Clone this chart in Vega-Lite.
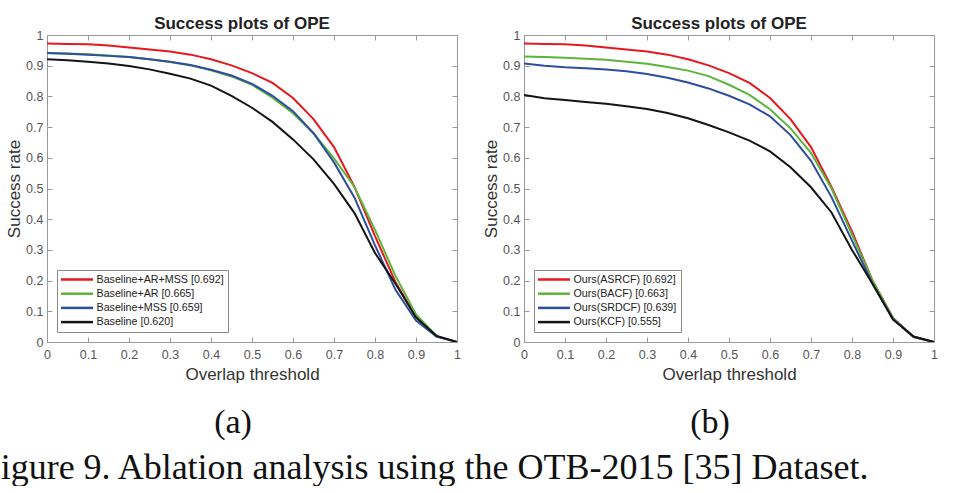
{
  "$schema": "https://vega.github.io/schema/vega-lite/v6.json",
  "background": "white",
  "padding": {"left": -20, "top": 15, "right": 0, "bottom": 0},
  "spacing": 21,
  "title": {
    "text": "Figure 9. Ablation analysis using the OTB-2015 [35] Dataset.",
    "orient": "bottom",
    "anchor": "start",
    "font": "Liberation Serif",
    "fontSize": 36,
    "fontWeight": "normal",
    "color": "#111111",
    "offset": 11,
    "dx": -25
  },
  "datasets": {
    "a": [
      {"m": "Baseline+AR+MSS [0.692]", "t": 0, "v": 0.972},
      {"m": "Baseline+AR+MSS [0.692]", "t": 0.05, "v": 0.971},
      {"m": "Baseline+AR+MSS [0.692]", "t": 0.1, "v": 0.970},
      {"m": "Baseline+AR+MSS [0.692]", "t": 0.15, "v": 0.966},
      {"m": "Baseline+AR+MSS [0.692]", "t": 0.2, "v": 0.959},
      {"m": "Baseline+AR+MSS [0.692]", "t": 0.25, "v": 0.953},
      {"m": "Baseline+AR+MSS [0.692]", "t": 0.3, "v": 0.946},
      {"m": "Baseline+AR+MSS [0.692]", "t": 0.35, "v": 0.936},
      {"m": "Baseline+AR+MSS [0.692]", "t": 0.4, "v": 0.921},
      {"m": "Baseline+AR+MSS [0.692]", "t": 0.45, "v": 0.901},
      {"m": "Baseline+AR+MSS [0.692]", "t": 0.5, "v": 0.876},
      {"m": "Baseline+AR+MSS [0.692]", "t": 0.55, "v": 0.844},
      {"m": "Baseline+AR+MSS [0.692]", "t": 0.6, "v": 0.795},
      {"m": "Baseline+AR+MSS [0.692]", "t": 0.65, "v": 0.726},
      {"m": "Baseline+AR+MSS [0.692]", "t": 0.7, "v": 0.635},
      {"m": "Baseline+AR+MSS [0.692]", "t": 0.75, "v": 0.505},
      {"m": "Baseline+AR+MSS [0.692]", "t": 0.8, "v": 0.345},
      {"m": "Baseline+AR+MSS [0.692]", "t": 0.85, "v": 0.195},
      {"m": "Baseline+AR+MSS [0.692]", "t": 0.9, "v": 0.082},
      {"m": "Baseline+AR+MSS [0.692]", "t": 0.95, "v": 0.018},
      {"m": "Baseline+AR+MSS [0.692]", "t": 1, "v": 0},
      {"m": "Baseline+AR [0.665]", "t": 0, "v": 0.941},
      {"m": "Baseline+AR [0.665]", "t": 0.05, "v": 0.940},
      {"m": "Baseline+AR [0.665]", "t": 0.1, "v": 0.937},
      {"m": "Baseline+AR [0.665]", "t": 0.15, "v": 0.933},
      {"m": "Baseline+AR [0.665]", "t": 0.2, "v": 0.928},
      {"m": "Baseline+AR [0.665]", "t": 0.25, "v": 0.921},
      {"m": "Baseline+AR [0.665]", "t": 0.3, "v": 0.912},
      {"m": "Baseline+AR [0.665]", "t": 0.35, "v": 0.901},
      {"m": "Baseline+AR [0.665]", "t": 0.4, "v": 0.885},
      {"m": "Baseline+AR [0.665]", "t": 0.45, "v": 0.865},
      {"m": "Baseline+AR [0.665]", "t": 0.5, "v": 0.838},
      {"m": "Baseline+AR [0.665]", "t": 0.55, "v": 0.796},
      {"m": "Baseline+AR [0.665]", "t": 0.6, "v": 0.745},
      {"m": "Baseline+AR [0.665]", "t": 0.65, "v": 0.680},
      {"m": "Baseline+AR [0.665]", "t": 0.7, "v": 0.598},
      {"m": "Baseline+AR [0.665]", "t": 0.75, "v": 0.505},
      {"m": "Baseline+AR [0.665]", "t": 0.8, "v": 0.365},
      {"m": "Baseline+AR [0.665]", "t": 0.85, "v": 0.215},
      {"m": "Baseline+AR [0.665]", "t": 0.9, "v": 0.090},
      {"m": "Baseline+AR [0.665]", "t": 0.95, "v": 0.020},
      {"m": "Baseline+AR [0.665]", "t": 1, "v": 0},
      {"m": "Baseline+MSS [0.659]", "t": 0, "v": 0.941},
      {"m": "Baseline+MSS [0.659]", "t": 0.05, "v": 0.939},
      {"m": "Baseline+MSS [0.659]", "t": 0.1, "v": 0.936},
      {"m": "Baseline+MSS [0.659]", "t": 0.15, "v": 0.932},
      {"m": "Baseline+MSS [0.659]", "t": 0.2, "v": 0.928},
      {"m": "Baseline+MSS [0.659]", "t": 0.25, "v": 0.921},
      {"m": "Baseline+MSS [0.659]", "t": 0.3, "v": 0.913},
      {"m": "Baseline+MSS [0.659]", "t": 0.35, "v": 0.902},
      {"m": "Baseline+MSS [0.659]", "t": 0.4, "v": 0.887},
      {"m": "Baseline+MSS [0.659]", "t": 0.45, "v": 0.868},
      {"m": "Baseline+MSS [0.659]", "t": 0.5, "v": 0.841},
      {"m": "Baseline+MSS [0.659]", "t": 0.55, "v": 0.802},
      {"m": "Baseline+MSS [0.659]", "t": 0.6, "v": 0.752},
      {"m": "Baseline+MSS [0.659]", "t": 0.65, "v": 0.680},
      {"m": "Baseline+MSS [0.659]", "t": 0.7, "v": 0.585},
      {"m": "Baseline+MSS [0.659]", "t": 0.75, "v": 0.470},
      {"m": "Baseline+MSS [0.659]", "t": 0.8, "v": 0.315},
      {"m": "Baseline+MSS [0.659]", "t": 0.85, "v": 0.170},
      {"m": "Baseline+MSS [0.659]", "t": 0.9, "v": 0.070},
      {"m": "Baseline+MSS [0.659]", "t": 0.95, "v": 0.018},
      {"m": "Baseline+MSS [0.659]", "t": 1, "v": 0},
      {"m": "Baseline [0.620]", "t": 0, "v": 0.921},
      {"m": "Baseline [0.620]", "t": 0.05, "v": 0.918},
      {"m": "Baseline [0.620]", "t": 0.1, "v": 0.913},
      {"m": "Baseline [0.620]", "t": 0.15, "v": 0.907},
      {"m": "Baseline [0.620]", "t": 0.2, "v": 0.899},
      {"m": "Baseline [0.620]", "t": 0.25, "v": 0.888},
      {"m": "Baseline [0.620]", "t": 0.3, "v": 0.874},
      {"m": "Baseline [0.620]", "t": 0.35, "v": 0.858},
      {"m": "Baseline [0.620]", "t": 0.4, "v": 0.835},
      {"m": "Baseline [0.620]", "t": 0.45, "v": 0.802},
      {"m": "Baseline [0.620]", "t": 0.5, "v": 0.763},
      {"m": "Baseline [0.620]", "t": 0.55, "v": 0.717},
      {"m": "Baseline [0.620]", "t": 0.6, "v": 0.660},
      {"m": "Baseline [0.620]", "t": 0.65, "v": 0.595},
      {"m": "Baseline [0.620]", "t": 0.7, "v": 0.515},
      {"m": "Baseline [0.620]", "t": 0.75, "v": 0.420},
      {"m": "Baseline [0.620]", "t": 0.8, "v": 0.290},
      {"m": "Baseline [0.620]", "t": 0.85, "v": 0.190},
      {"m": "Baseline [0.620]", "t": 0.9, "v": 0.080},
      {"m": "Baseline [0.620]", "t": 0.95, "v": 0.020},
      {"m": "Baseline [0.620]", "t": 1, "v": 0}
    ],
    "b": [
      {"m": "Ours(ASRCF) [0.692]", "t": 0, "v": 0.972},
      {"m": "Ours(ASRCF) [0.692]", "t": 0.05, "v": 0.971},
      {"m": "Ours(ASRCF) [0.692]", "t": 0.1, "v": 0.970},
      {"m": "Ours(ASRCF) [0.692]", "t": 0.15, "v": 0.966},
      {"m": "Ours(ASRCF) [0.692]", "t": 0.2, "v": 0.959},
      {"m": "Ours(ASRCF) [0.692]", "t": 0.25, "v": 0.953},
      {"m": "Ours(ASRCF) [0.692]", "t": 0.3, "v": 0.946},
      {"m": "Ours(ASRCF) [0.692]", "t": 0.35, "v": 0.936},
      {"m": "Ours(ASRCF) [0.692]", "t": 0.4, "v": 0.921},
      {"m": "Ours(ASRCF) [0.692]", "t": 0.45, "v": 0.901},
      {"m": "Ours(ASRCF) [0.692]", "t": 0.5, "v": 0.876},
      {"m": "Ours(ASRCF) [0.692]", "t": 0.55, "v": 0.844},
      {"m": "Ours(ASRCF) [0.692]", "t": 0.6, "v": 0.795},
      {"m": "Ours(ASRCF) [0.692]", "t": 0.65, "v": 0.726},
      {"m": "Ours(ASRCF) [0.692]", "t": 0.7, "v": 0.635},
      {"m": "Ours(ASRCF) [0.692]", "t": 0.75, "v": 0.505},
      {"m": "Ours(ASRCF) [0.692]", "t": 0.8, "v": 0.360},
      {"m": "Ours(ASRCF) [0.692]", "t": 0.85, "v": 0.200},
      {"m": "Ours(ASRCF) [0.692]", "t": 0.9, "v": 0.078},
      {"m": "Ours(ASRCF) [0.692]", "t": 0.95, "v": 0.016},
      {"m": "Ours(ASRCF) [0.692]", "t": 1, "v": 0},
      {"m": "Ours(BACF) [0.663]", "t": 0, "v": 0.930},
      {"m": "Ours(BACF) [0.663]", "t": 0.05, "v": 0.928},
      {"m": "Ours(BACF) [0.663]", "t": 0.1, "v": 0.926},
      {"m": "Ours(BACF) [0.663]", "t": 0.15, "v": 0.923},
      {"m": "Ours(BACF) [0.663]", "t": 0.2, "v": 0.919},
      {"m": "Ours(BACF) [0.663]", "t": 0.25, "v": 0.913},
      {"m": "Ours(BACF) [0.663]", "t": 0.3, "v": 0.906},
      {"m": "Ours(BACF) [0.663]", "t": 0.35, "v": 0.896},
      {"m": "Ours(BACF) [0.663]", "t": 0.4, "v": 0.884},
      {"m": "Ours(BACF) [0.663]", "t": 0.45, "v": 0.866},
      {"m": "Ours(BACF) [0.663]", "t": 0.5, "v": 0.838},
      {"m": "Ours(BACF) [0.663]", "t": 0.55, "v": 0.805},
      {"m": "Ours(BACF) [0.663]", "t": 0.6, "v": 0.758},
      {"m": "Ours(BACF) [0.663]", "t": 0.65, "v": 0.696},
      {"m": "Ours(BACF) [0.663]", "t": 0.7, "v": 0.616},
      {"m": "Ours(BACF) [0.663]", "t": 0.75, "v": 0.500},
      {"m": "Ours(BACF) [0.663]", "t": 0.8, "v": 0.350},
      {"m": "Ours(BACF) [0.663]", "t": 0.85, "v": 0.200},
      {"m": "Ours(BACF) [0.663]", "t": 0.9, "v": 0.078},
      {"m": "Ours(BACF) [0.663]", "t": 0.95, "v": 0.016},
      {"m": "Ours(BACF) [0.663]", "t": 1, "v": 0},
      {"m": "Ours(SRDCF) [0.639]", "t": 0, "v": 0.907},
      {"m": "Ours(SRDCF) [0.639]", "t": 0.05, "v": 0.900},
      {"m": "Ours(SRDCF) [0.639]", "t": 0.1, "v": 0.895},
      {"m": "Ours(SRDCF) [0.639]", "t": 0.15, "v": 0.892},
      {"m": "Ours(SRDCF) [0.639]", "t": 0.2, "v": 0.888},
      {"m": "Ours(SRDCF) [0.639]", "t": 0.25, "v": 0.882},
      {"m": "Ours(SRDCF) [0.639]", "t": 0.3, "v": 0.873},
      {"m": "Ours(SRDCF) [0.639]", "t": 0.35, "v": 0.861},
      {"m": "Ours(SRDCF) [0.639]", "t": 0.4, "v": 0.845},
      {"m": "Ours(SRDCF) [0.639]", "t": 0.45, "v": 0.826},
      {"m": "Ours(SRDCF) [0.639]", "t": 0.5, "v": 0.802},
      {"m": "Ours(SRDCF) [0.639]", "t": 0.55, "v": 0.774},
      {"m": "Ours(SRDCF) [0.639]", "t": 0.6, "v": 0.735},
      {"m": "Ours(SRDCF) [0.639]", "t": 0.65, "v": 0.674},
      {"m": "Ours(SRDCF) [0.639]", "t": 0.7, "v": 0.590},
      {"m": "Ours(SRDCF) [0.639]", "t": 0.75, "v": 0.472},
      {"m": "Ours(SRDCF) [0.639]", "t": 0.8, "v": 0.330},
      {"m": "Ours(SRDCF) [0.639]", "t": 0.85, "v": 0.190},
      {"m": "Ours(SRDCF) [0.639]", "t": 0.9, "v": 0.075},
      {"m": "Ours(SRDCF) [0.639]", "t": 0.95, "v": 0.018},
      {"m": "Ours(SRDCF) [0.639]", "t": 1, "v": 0},
      {"m": "Ours(KCF) [0.555]", "t": 0, "v": 0.805},
      {"m": "Ours(KCF) [0.555]", "t": 0.05, "v": 0.794},
      {"m": "Ours(KCF) [0.555]", "t": 0.1, "v": 0.788},
      {"m": "Ours(KCF) [0.555]", "t": 0.15, "v": 0.782},
      {"m": "Ours(KCF) [0.555]", "t": 0.2, "v": 0.776},
      {"m": "Ours(KCF) [0.555]", "t": 0.25, "v": 0.768},
      {"m": "Ours(KCF) [0.555]", "t": 0.3, "v": 0.759},
      {"m": "Ours(KCF) [0.555]", "t": 0.35, "v": 0.746},
      {"m": "Ours(KCF) [0.555]", "t": 0.4, "v": 0.729},
      {"m": "Ours(KCF) [0.555]", "t": 0.45, "v": 0.707},
      {"m": "Ours(KCF) [0.555]", "t": 0.5, "v": 0.683},
      {"m": "Ours(KCF) [0.555]", "t": 0.55, "v": 0.656},
      {"m": "Ours(KCF) [0.555]", "t": 0.6, "v": 0.621},
      {"m": "Ours(KCF) [0.555]", "t": 0.65, "v": 0.569},
      {"m": "Ours(KCF) [0.555]", "t": 0.7, "v": 0.504},
      {"m": "Ours(KCF) [0.555]", "t": 0.75, "v": 0.422},
      {"m": "Ours(KCF) [0.555]", "t": 0.8, "v": 0.300},
      {"m": "Ours(KCF) [0.555]", "t": 0.85, "v": 0.190},
      {"m": "Ours(KCF) [0.555]", "t": 0.9, "v": 0.073},
      {"m": "Ours(KCF) [0.555]", "t": 0.95, "v": 0.018},
      {"m": "Ours(KCF) [0.555]", "t": 1, "v": 0}
    ]
  },
  "hconcat": [
    {
      "title": {"text": "(a)", "orient": "bottom", "anchor": "middle", "font": "Liberation Serif", "fontSize": 34, "fontWeight": "normal", "color": "#111111", "offset": 23, "dx": 0},
      "resolve": {"scale": {"color": "independent"}, "legend": {"color": "independent"}},
      "vconcat": [
        {
          "title": {"text": "Success plots of OPE", "font": "Liberation Sans", "fontSize": 17, "fontWeight": "bold", "color": "#222222", "anchor": "middle", "dx": -10, "offset": -4},
          "width": 410,
          "height": 307,
          "data": {"name": "a"},
          "layer": [
            {
              "mark": {"type": "line", "strokeWidth": 2, "clip": true},
              "encoding": {
                "x": {"field": "t", "type": "quantitative", "scale": {"domain": [0, 1], "nice": false, "zero": false},
                      "axis": {"orient": "bottom", "values": [0, 0.1, 0.2, 0.3, 0.4, 0.5, 0.6, 0.7, 0.8, 0.9, 1], "format": "~g", "title": "Overlap threshold", "titlePadding": 6, "labelPadding": 11, "labelFlush": false, "labelOverlap": false}},
                "y": {"field": "v", "type": "quantitative", "scale": {"domain": [0, 1], "nice": false, "zero": false},
                      "axis": {"orient": "left", "values": [0, 0.1, 0.2, 0.3, 0.4, 0.5, 0.6, 0.7, 0.8, 0.9, 1], "format": "~g", "title": "Success rate", "labelFlush": false, "labelOverlap": false}},
                "color": {"field": "m", "type": "nominal",
                          "scale": {"domain": ["Baseline+AR+MSS [0.692]", "Baseline+AR [0.665]", "Baseline+MSS [0.659]", "Baseline [0.620]"], "range": ["#e8171e", "#5cb53a", "#2d4da0", "#141414"]},
                          "legend": {"orient": "bottom-left", "offset": 10, "title": null, "strokeColor": "#8a8a8a", "fillColor": "#ffffff"}}
              }
            },
            {
              "mark": {"type": "point", "opacity": 0},
              "encoding": {
                "x": {"field": "t", "type": "quantitative", "axis": {"orient": "top", "values": [0, 0.1, 0.2, 0.3, 0.4, 0.5, 0.6, 0.7, 0.8, 0.9, 1], "labels": false, "title": null}},
                "y": {"field": "v", "type": "quantitative", "axis": {"orient": "right", "values": [0, 0.1, 0.2, 0.3, 0.4, 0.5, 0.6, 0.7, 0.8, 0.9, 1], "labels": false, "title": null}}
              }
            }
          ]
        }
      ]
    },
    {
      "title": {"text": "(b)", "orient": "bottom", "anchor": "middle", "font": "Liberation Serif", "fontSize": 34, "fontWeight": "normal", "color": "#111111", "offset": 23, "dx": 0},
      "resolve": {"scale": {"color": "independent"}, "legend": {"color": "independent"}},
      "vconcat": [
        {
          "title": {"text": "Success plots of OPE", "font": "Liberation Sans", "fontSize": 17, "fontWeight": "bold", "color": "#222222", "anchor": "middle", "dx": -10, "offset": -4},
          "width": 410,
          "height": 307,
          "data": {"name": "b"},
          "layer": [
            {
              "mark": {"type": "line", "strokeWidth": 2, "clip": true},
              "encoding": {
                "x": {"field": "t", "type": "quantitative", "scale": {"domain": [0, 1], "nice": false, "zero": false},
                      "axis": {"orient": "bottom", "values": [0, 0.1, 0.2, 0.3, 0.4, 0.5, 0.6, 0.7, 0.8, 0.9, 1], "format": "~g", "title": "Overlap threshold", "titlePadding": 6, "labelPadding": 11, "labelFlush": false, "labelOverlap": false}},
                "y": {"field": "v", "type": "quantitative", "scale": {"domain": [0, 1], "nice": false, "zero": false},
                      "axis": {"orient": "left", "values": [0, 0.1, 0.2, 0.3, 0.4, 0.5, 0.6, 0.7, 0.8, 0.9, 1], "format": "~g", "title": "Success rate", "labelFlush": false, "labelOverlap": false}},
                "color": {"field": "m", "type": "nominal",
                          "scale": {"domain": ["Ours(ASRCF) [0.692]", "Ours(BACF) [0.663]", "Ours(SRDCF) [0.639]", "Ours(KCF) [0.555]"], "range": ["#e8171e", "#5cb53a", "#2d4da0", "#141414"]},
                          "legend": {"orient": "bottom-left", "offset": 10, "title": null, "strokeColor": "#8a8a8a", "fillColor": "#ffffff"}}
              }
            },
            {
              "mark": {"type": "point", "opacity": 0},
              "encoding": {
                "x": {"field": "t", "type": "quantitative", "axis": {"orient": "top", "values": [0, 0.1, 0.2, 0.3, 0.4, 0.5, 0.6, 0.7, 0.8, 0.9, 1], "labels": false, "title": null}},
                "y": {"field": "v", "type": "quantitative", "axis": {"orient": "right", "values": [0, 0.1, 0.2, 0.3, 0.4, 0.5, 0.6, 0.7, 0.8, 0.9, 1], "labels": false, "title": null}}
              }
            }
          ]
        }
      ]
    }
  ],
  "resolve": {"scale": {"color": "independent", "x": "independent", "y": "independent"}, "legend": {"color": "independent"}},
  "config": {
    "view": {"stroke": null},
    "axis": {
      "domainColor": "#999999",
      "domainWidth": 1,
      "tickColor": "#999999",
      "tickSize": -5,
      "tickWidth": 1,
      "labelPadding": 9,
      "labelFont": "Liberation Sans",
      "labelFontSize": 12.5,
      "labelColor": "#555555",
      "titleFont": "Liberation Sans",
      "titleFontSize": 17,
      "titleFontWeight": "normal",
      "titleColor": "#333333",
      "titlePadding": 2,
      "grid": false
    },
    "legend": {
      "symbolType": "M-4,0H4",
      "symbolSize": 64,
      "symbolStrokeWidth": 2.5,
      "symbolOffset": 10.5,
      "labelOffset": 14,
      "labelFont": "Liberation Sans",
      "labelFontSize": 10.7,
      "labelColor": "#222222",
      "strokeColor": "#8a8a8a",
      "fillColor": "white",
      "padding": 4,
      "rowPadding": 2.2,
      "cornerRadius": 0,
      "labelLimit": 300
    }
  }
}
